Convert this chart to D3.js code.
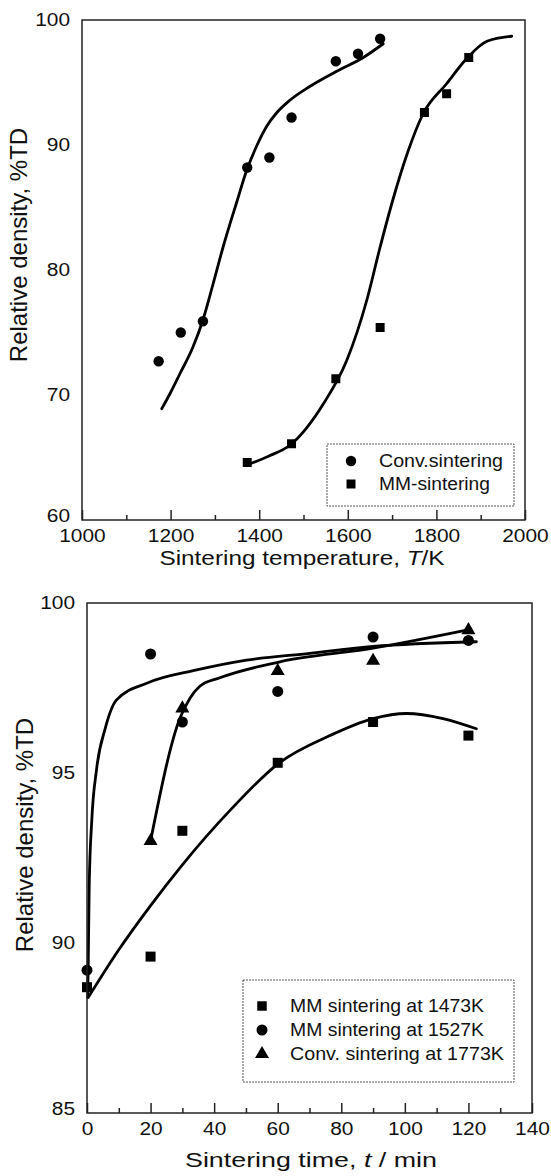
<!DOCTYPE html>
<html>
<head>
<meta charset="utf-8">
<script src="https://cdn.jsdelivr.net/npm/d3@7"></script>
<style>
body { margin: 0; background: #fff; }
svg { display: block; font-family: 'Liberation Sans', Arial, sans-serif; }
</style>
</head>
<body>
<div id="chart"></div>
<script>
// (a) relative density vs sintering temperature
var temp_conv = [1173, 1223, 1273, 1373, 1423, 1473, 1573, 1623, 1673]
var dens_conv = [72.7, 75.0, 75.9, 88.2, 89.0, 92.2, 96.7, 97.3, 98.5]
var temp_mm = [1373, 1473, 1573, 1673, 1773, 1823, 1873]
var dens_mm = [64.6, 66.1, 71.3, 75.4, 92.6, 94.1, 97.0]
// fitted curves
var fit_conv_T = [1180, 1200, 1221, 1250, 1273, 1296, 1319, 1349, 1372, 1394, 1417, 1440, 1470, 1515, 1575, 1635, 1680]
var fit_conv_D = [68.9, 70.2, 71.7, 73.8, 76.0, 78.9, 81.9, 85.4, 88.0, 89.9, 91.5, 92.6, 93.6, 94.7, 95.9, 97.0, 98.1]
var fit_mm_T = [1372, 1421, 1470, 1545, 1598, 1643, 1672, 1700, 1735, 1770, 1823, 1868, 1914, 1970]
var fit_mm_D = [64.4, 65.1, 66.0, 69.3, 72.8, 77.6, 81.7, 85.4, 89.4, 92.5, 94.9, 96.9, 98.3, 98.7]
var temp_ticks = [1000, 1200, 1400, 1600, 1800, 2000]
var temp_minor = [1100, 1300, 1500, 1700, 1900]
var dens_ticks_a = [60, 70, 80, 90, 100]
var legend_a = ['Conv.sintering', 'MM-sintering']

// (b) relative density vs sintering time
var time_pts = [0, 20, 30, 60, 90, 120]
var dens_1473 = [88.7, 89.6, 93.3, 95.3, 96.5, 96.1]
var dens_1527 = [89.2, 98.5, 96.5, 97.4, 99.0, 98.9]
var time_conv = [20, 30, 60, 90, 120]
var dens_1773 = [93.0, 96.9, 98.0, 98.3, 99.2]
var fit_1473_t = [0.4, 10, 20, 30, 45, 60.5, 76.4, 90, 100.5, 112, 122.5]
var fit_1473_D = [88.4, 89.8, 91.1, 92.3, 93.9, 95.3, 96.1, 96.6, 96.75, 96.6, 96.3]
var fit_1527_t = [0.2, 0.4, 0.7, 1.5, 3.0, 5.7, 9.3, 18.8, 34.5, 50.2, 70.1, 90, 122.5]
var fit_1527_D = [88.4, 89.5, 91.7, 93.6, 95.1, 96.3, 97.15, 97.64, 98.03, 98.32, 98.52, 98.72, 98.86]
var fit_1773_t = [20, 29.2, 32.4, 35.5, 41.8, 60.7, 90, 119.4]
var fit_1773_D = [93.0, 96.6, 97.2, 97.55, 97.8, 98.27, 98.67, 99.2]
var time_ticks = [0, 20, 40, 60, 80, 100, 120, 140]
var time_minor = [10, 30, 50, 70, 90, 110, 130]
var dens_ticks_b = [85, 90, 95, 100]
var legend_b = ['MM sintering at 1473K', 'MM sintering at 1527K', 'Conv. sintering at 1773K']

var svg = d3.select('#chart')
            .append('svg')
            .attr('width', 551)
            .attr('height', 1176)

function widen(sel, k){
    sel.each(function(){
        var t = d3.select(this)
        var x = +t.attr('x') || 0
        t.attr('x', x / k).attr('transform', 'scale(' + k + ',1)')
    })
}

function frame(x, y){
    svg.append('rect')
        .attr('x', x.range()[0])
        .attr('y', y.range()[1])
        .attr('width', x.range()[1] - x.range()[0])
        .attr('height', y.range()[0] - y.range()[1])
        .attr('fill', 'none')
        .attr('stroke', '#222')
        .attr('stroke-width', 1.5)
}

function axes(x, y, major, minor, yticks){
    var gx = svg.append('g')
        .attr('transform', 'translate(0,' + y.range()[0] + ')')
        .call(d3.axisBottom(x).tickValues(major).tickSizeInner(-10).tickSizeOuter(0).tickPadding(9).tickFormat(d3.format('d')))
    svg.append('g')
        .attr('transform', 'translate(0,' + y.range()[0] + ')')
        .call(d3.axisBottom(x).tickValues(minor).tickSizeInner(-5).tickSizeOuter(0).tickFormat(''))
        .select('.domain').remove()
    var gy = svg.append('g')
        .attr('transform', 'translate(' + x.range()[0] + ',0)')
        .call(d3.axisLeft(y).tickValues(yticks).tickSize(0).tickPadding(12))
    svg.selectAll('.tick line').attr('stroke', '#222').attr('stroke-width', 1.5)
    gx.select('.domain').remove()
    gy.select('.domain').remove()
    gx.attr('font-size', null).attr('font-family', null)
    gy.attr('font-size', null).attr('font-family', null)
    gx.selectAll('text').style('font-size', '19px').attr('fill', '#111').call(widen, 1.1)
    gy.selectAll('text').style('font-size', '19px').attr('fill', '#111')
        .attr('dy', function(d, i){ return i == 0 ? '0.08em' : '0.3em' })
        .call(widen, 1.1)
}

function xTitle(cx, cy, pre, it, post, len){
    var t = svg.append('text')
        .attr('x', cx)
        .attr('y', cy)
        .attr('text-anchor', 'middle')
        .attr('textLength', len)
        .attr('lengthAdjust', 'spacingAndGlyphs')
        .style('font-size', '20px')
        .attr('fill', '#111')
    t.append('tspan').text(pre)
    t.append('tspan').style('font-style', 'italic').text(it)
    t.append('tspan').text(post)
}

function yTitle(cx, cy){
    svg.append('text')
        .attr('transform', 'translate(' + cx + ',' + cy + ') rotate(-90)')
        .attr('text-anchor', 'middle')
        .style('font-size', '24px')
        .attr('fill', '#111')
        .text('Relative density, %TD')
}

function points(x, y, xs, ys, shape, size){
    svg.append('g')
        .selectAll('path')
        .data(d3.zip(xs, ys))
        .join('path')
        .attr('transform', function(d){ return 'translate(' + x(d[0]) + ',' + y(d[1]) + ')' })
        .attr('d', d3.symbol().type(shape).size(size))
        .attr('fill', '#000')
}

function fit(x, y, xs, ys){
    svg.append('path')
        .datum(d3.zip(xs, ys))
        .attr('d', d3.line().x(function(d){ return x(d[0]) }).y(function(d){ return y(d[1]) }).curve(d3.curveMonotoneX))
        .attr('fill', 'none')
        .attr('stroke', '#000')
        .attr('stroke-width', 2.8)
        .attr('stroke-linecap', 'round')
}

function legend(x0, y0, w, h, labels, shapes, sizes, fs, lens, symX, txtX, rowY, step){
    svg.append('rect')
        .attr('x', x0).attr('y', y0)
        .attr('width', w).attr('height', h)
        .attr('fill', '#fff')
        .attr('stroke', '#555')
        .attr('stroke-width', 1)
        .attr('stroke-dasharray', '2,1')
    labels.forEach(function(l, i){
        svg.append('path')
            .attr('transform', 'translate(' + symX + ',' + (rowY + i * step) + ')')
            .attr('d', d3.symbol().type(shapes[i]).size(sizes[i]))
            .attr('fill', '#000')
        svg.append('text')
            .attr('x', txtX)
            .attr('y', rowY + i * step + 6)
            .attr('textLength', lens[i])
            .attr('lengthAdjust', 'spacingAndGlyphs')
            .style('font-size', fs + 'px')
            .attr('fill', '#111')
            .text(l)
    })
}

// panel (a)
var xa = d3.scaleLinear().domain([1000, 2000]).range([82, 525])
var ya = d3.scaleLinear().domain([60, 100]).range([520, 20])

axes(xa, ya, temp_ticks, temp_minor, dens_ticks_a)
fit(xa, ya, fit_conv_T, fit_conv_D)
fit(xa, ya, fit_mm_T, fit_mm_D)
points(xa, ya, temp_conv, dens_conv, d3.symbolCircle, 85)
points(xa, ya, temp_mm, dens_mm, d3.symbolSquare, 81)
frame(xa, ya)
legend(327, 444, 187, 62, legend_a, [d3.symbolCircle, d3.symbolSquare], [85, 81], 17.5, [124, 111], 351, 379, 461, 23)
xTitle(302, 565, 'Sintering temperature, ', 'T', '/K', 285)
yTitle(27, 245)

// panel (b)
var xb = d3.scaleLinear().domain([0, 140]).range([87, 532])
var yb = d3.scaleLinear().domain([85, 100]).range([1113, 603])

axes(xb, yb, time_ticks, time_minor, dens_ticks_b)
fit(xb, yb, fit_1473_t, fit_1473_D)
fit(xb, yb, fit_1527_t, fit_1527_D)
fit(xb, yb, fit_1773_t, fit_1773_D)
points(xb, yb, time_pts, dens_1473, d3.symbolSquare, 100)
points(xb, yb, time_pts, dens_1527, d3.symbolCircle, 95)
points(xb, yb, time_conv, dens_1773, d3.symbolTriangle, 85)
frame(xb, yb)
legend(243, 980, 271, 102, legend_b, [d3.symbolSquare, d3.symbolCircle, d3.symbolTriangle], [90, 95, 85], 18.5, [194, 194, 214], 262, 290, 1006, 24)
xTitle(311, 1167, 'Sintering time, ', 't', ' / min', 252)
yTitle(33, 835)
</script>
</body>
</html>
